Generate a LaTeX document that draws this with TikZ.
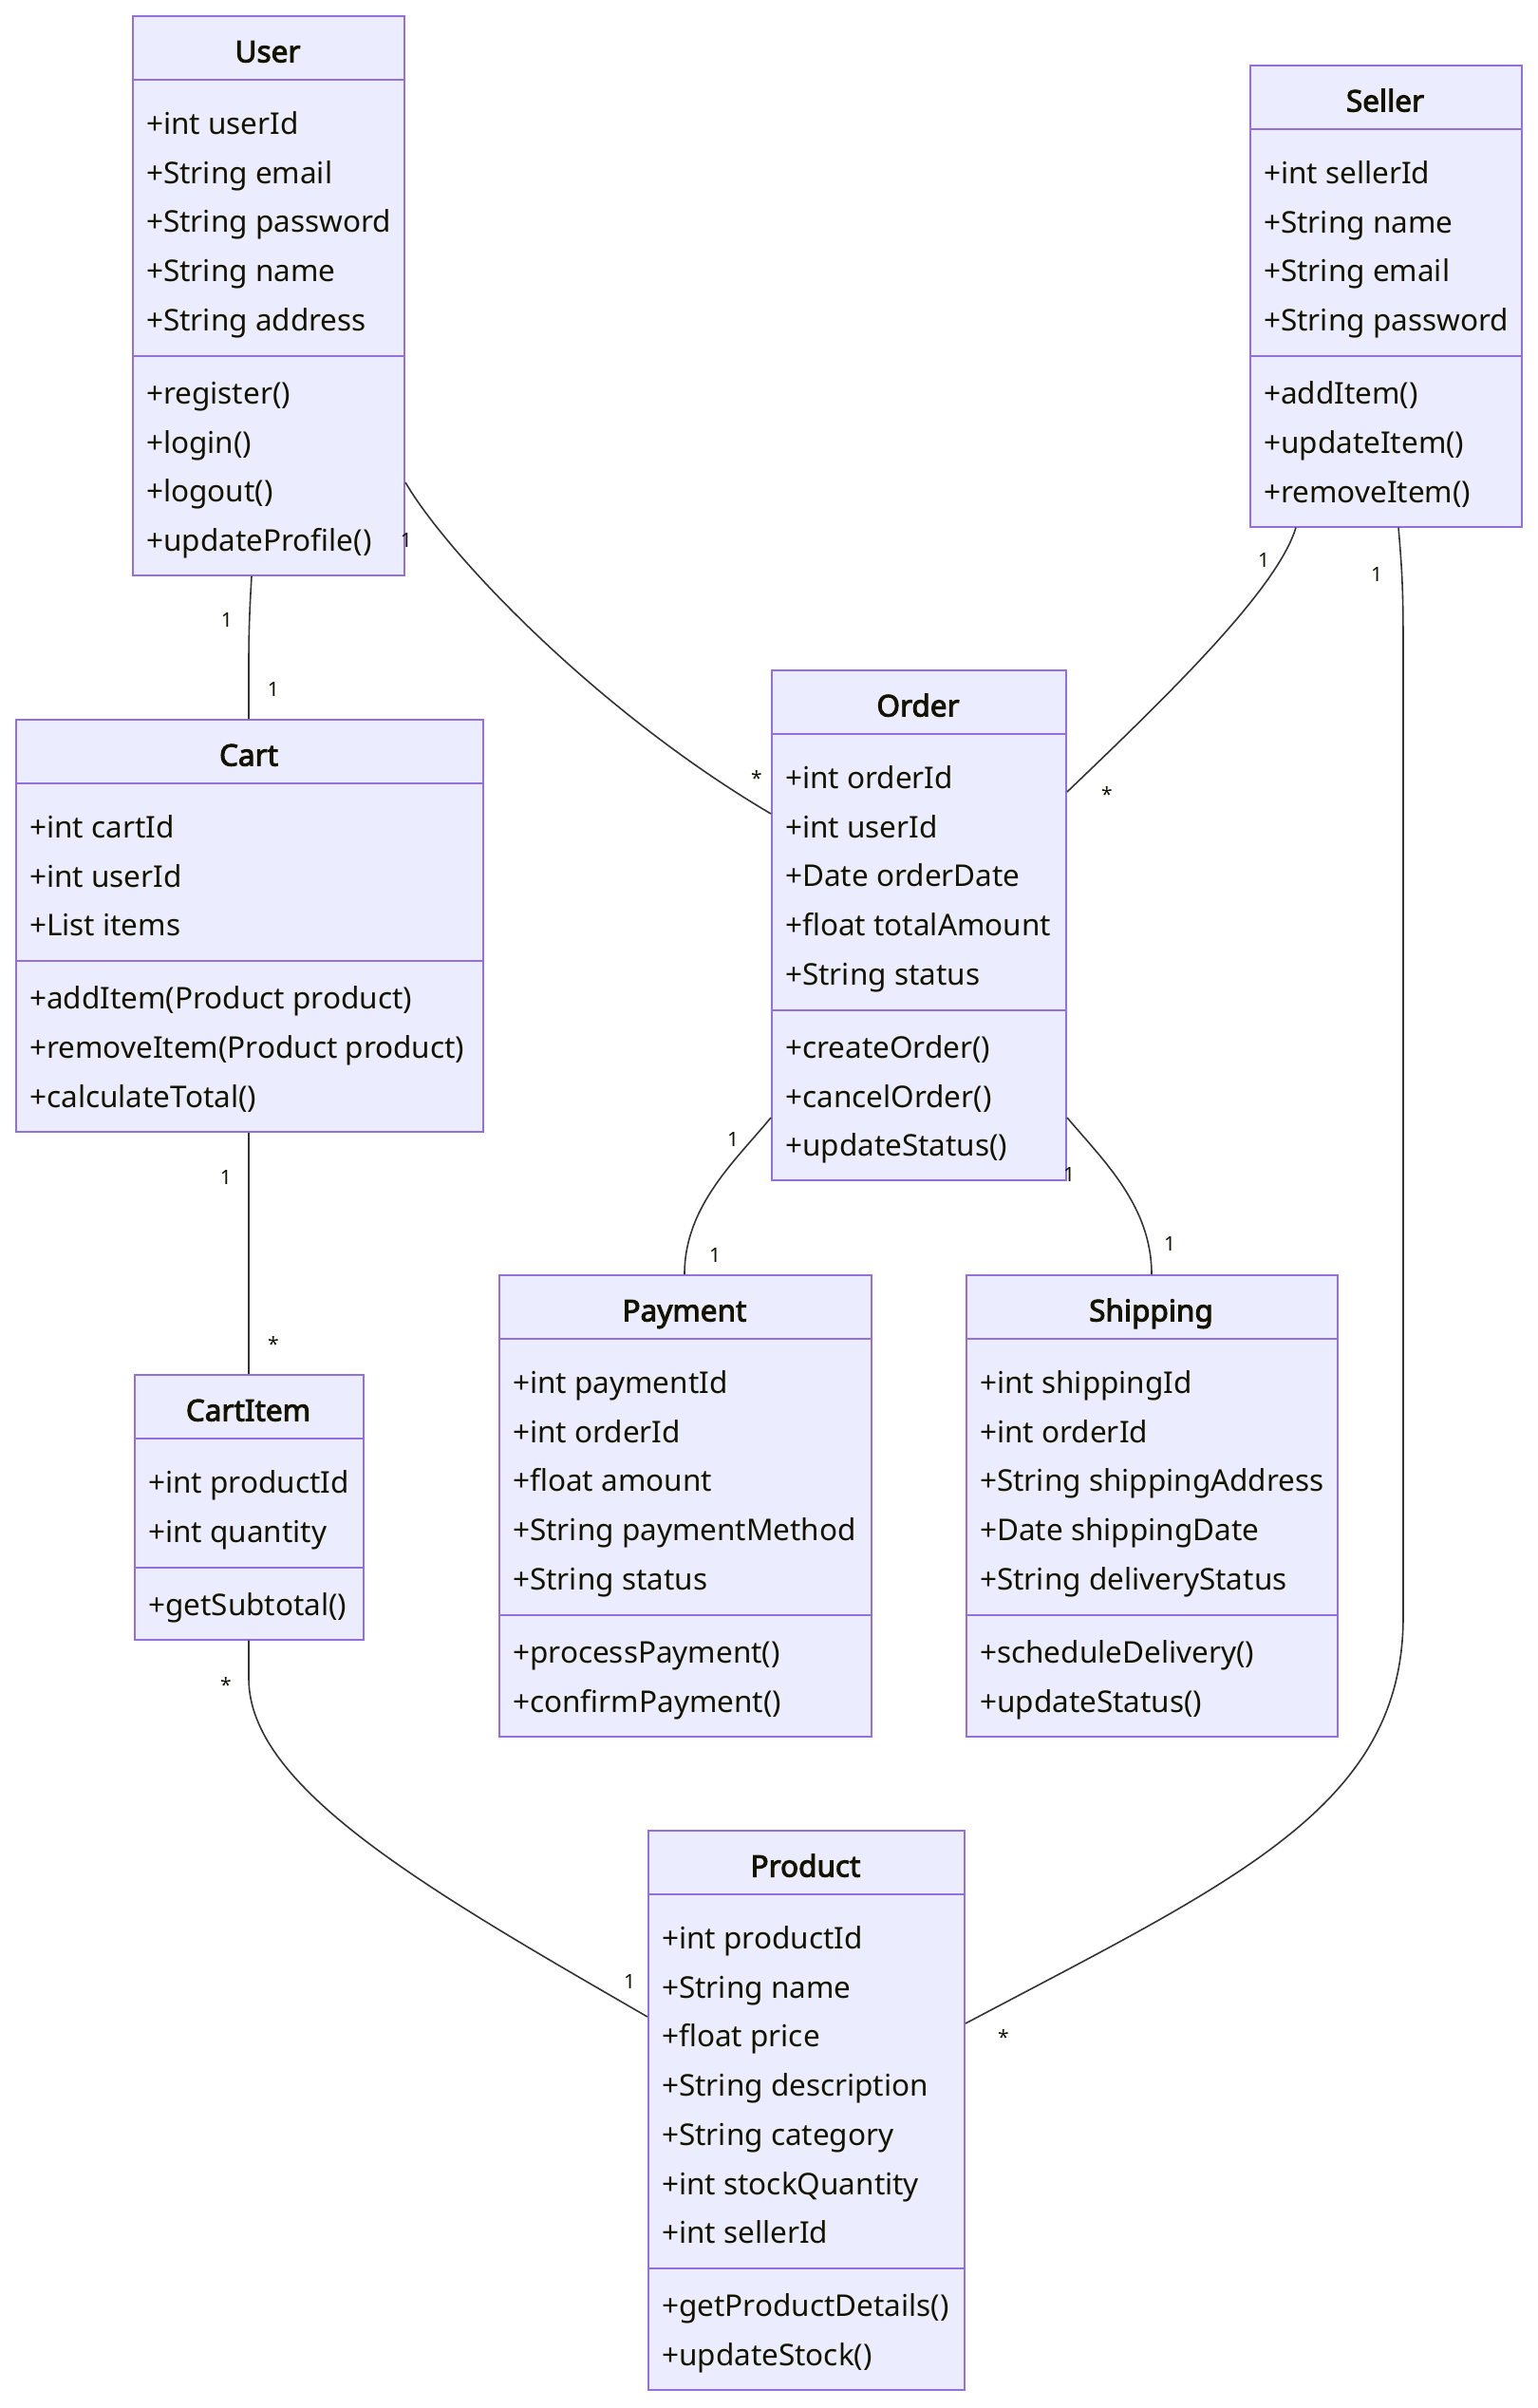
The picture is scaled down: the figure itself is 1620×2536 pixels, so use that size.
\documentclass[tikz,border=0pt]{standalone}
\usepackage{fontspec}
\setmainfont{Noto Sans}[AutoFakeBold=3]
\usetikzlibrary{calc}

\definecolor{boxfill}{HTML}{ECECFF}
\definecolor{boxline}{HTML}{9370DB}
\definecolor{ink}{HTML}{131300}
\definecolor{edgeink}{HTML}{333333}

\tikzset{
  classbox/.style={draw=boxline, fill=boxfill, line width=2pt, inner sep=0pt, rectangle},
  divider/.style={draw=boxline, line width=2pt},
  titletext/.style={anchor=base, inner sep=0pt, text=ink, font=\fontsize{31.5}{38}\selectfont\bfseries},
  membertext/.style={anchor=base west, inner sep=0pt, text=ink, font=\fontsize{31.5}{38}\selectfont},
  assoc/.style={draw=edgeink, line width=1.6pt},
  mult/.style={inner sep=0pt, text=ink, font=\fontsize{21}{25}\selectfont},
}

% \umlclass{id}{left}{top}{width}{title}{#attributes}{#methods}{attributes}{methods}
\newcommand\umlclass[9]{%
  \pgfmathsetmacro\ucHdr{#3+68}%
  \pgfmathsetmacro\ucSep{#3+68+45+(#6-1)*51.7+39}%
  \pgfmathsetmacro\ucBot{\ucSep+38+(#7-1)*51.7+37}%
  \pgfmathsetmacro\ucHgt{\ucBot-#3}%
  \node[classbox, minimum width=#4pt, minimum height=\ucHgt pt, anchor=north west] (#1) at (#2,#3) {};
  \draw[divider] (#2,\ucHdr) -- ++(#4,0);
  \draw[divider] (#2,\ucSep) -- ++(#4,0);
  \node[titletext] (#1-title) at (#2+#4/2,#3+49.5) {#5};
  \foreach \t [count=\i] in {#8} {
    \node[membertext] (#1-a\i) at (#2+15,#3+68+45+12.5+\i*51.7-51.7) {\t};
  }
  \foreach \t [count=\i] in {#9} {
    \node[membertext] (#1-m\i) at (#2+15,\ucSep+38+12.5+\i*51.7-51.7) {\t};
  }
}

\begin{document}
\begin{tikzpicture}[x=1pt,y=-1pt]
  \fill[white] (0,0) rectangle (1620,2536);
  \useasboundingbox (0,0) rectangle (1620,2536);

  % classes
  \umlclass{User}{139}{16}{286}{User}{5}{4}
    {+int userId,+String email,+String password,+String name,+String address}
    {+register(),+login(),+logout(),+updateProfile()}
  \umlclass{Seller}{1316}{68}{286}{Seller}{4}{3}
    {+int sellerId,+String name,+String email,+String password}
    {+addItem(),+updateItem(),+removeItem()}
  \umlclass{Order}{812}{705}{310}{Order}{5}{3}
    {+int orderId,+int userId,+Date orderDate,+float totalAmount,+String status}
    {+createOrder(),+cancelOrder(),+updateStatus()}
  \umlclass{Cart}{16}{757}{492}{Cart}{3}{3}
    {+int cartId,+int userId,+List items}
    {+addItem(Product product),+removeItem(Product product),+calculateTotal()}
  \umlclass{CartItem}{141}{1447}{241}{CartItem}{2}{1}
    {+int productId,+int quantity}
    {+getSubtotal()}
  \umlclass{Payment}{525}{1342}{392}{Payment}{5}{2}
    {+int paymentId,+int orderId,+float amount,+String paymentMethod,+String status}
    {+processPayment(),+confirmPayment()}
  \umlclass{Shipping}{1017}{1342}{391}{Shipping}{5}{2}
    {+int shippingId,+int orderId,+String shippingAddress,+Date shippingDate,+String deliveryStatus}
    {+scheduleDelivery(),+updateStatus()}
  \umlclass{Product}{682}{1927}{333}{Product}{7}{2}
    {+int productId,+String name,+float price,+String description,+String category,+int stockQuantity,+int sellerId}
    {+getProductDetails(),+updateStock()}

  % associations
  \draw[assoc] ([xshift=126pt]User.south west) .. controls +(-2,35) and +(0,-40) .. ++(-3,95)
    -- ([xshift=246pt]Cart.north west);
  \draw[assoc] ([yshift=-492pt]User.north east) .. controls +(45,77) and +(-182,-107)
    .. ([yshift=-152pt]Order.north west);
  \draw[assoc] ([xshift=49pt]Seller.south west) .. controls +(-20,67) and +(98,-94)
    .. ([yshift=-129pt]Order.north east);
  \draw[assoc] ([xshift=157pt]Seller.south west) .. controls +(4,47) and +(0,-60) .. ++(5,127)
    -- ++(0,1020) .. controls +(0,200) and +(285,-151) .. ([yshift=-204pt]Product.north east);
  \draw[assoc] ([xshift=246pt]Cart.south west) -- ([xshift=121pt]CartItem.north west);
  \draw[assoc] ([xshift=121pt]CartItem.south west) -- ++(0,40)
    .. controls +(0,115) and +(-232,-134) .. ([yshift=-197pt]Product.north west);
  \draw[assoc] ([yshift=-472pt]Order.north west) .. controls +(-37,45) and +(0,-72)
    .. ([xshift=196pt]Payment.north west);
  \draw[assoc] ([yshift=-472pt]Order.north east) .. controls +(38,45) and +(0,-72)
    .. ([xshift=196pt]Shipping.north west);

  % multiplicities
  \node[mult] (m-user-cart) at (239,653) {1};
  \node[mult] (m-cart-user) at (288,726) {1};
  \node[mult] (m-user-order) at (428,569) {1};
  \node[mult] (m-order-user) at (797,820) {*};
  \node[mult] (m-seller-order) at (1331,590) {1};
  \node[mult] (m-order-seller) at (1166,837) {*};
  \node[mult] (m-seller-product) at (1450,605) {1};
  \node[mult] (m-product-seller) at (1057,2145) {*};
  \node[mult] (m-cart-item) at (238,1240) {1};
  \node[mult] (m-item-cart) at (288,1416) {*};
  \node[mult] (m-item-product) at (238,1774) {*};
  \node[mult] (m-product-item) at (663,2087) {1};
  \node[mult] (m-order-payment) at (772,1200) {1};
  \node[mult] (m-payment-order) at (753,1322) {1};
  \node[mult] (m-order-shipping) at (1126,1237) {1};
  \node[mult] (m-shipping-order) at (1232,1310) {1};
\end{tikzpicture}
\end{document}
